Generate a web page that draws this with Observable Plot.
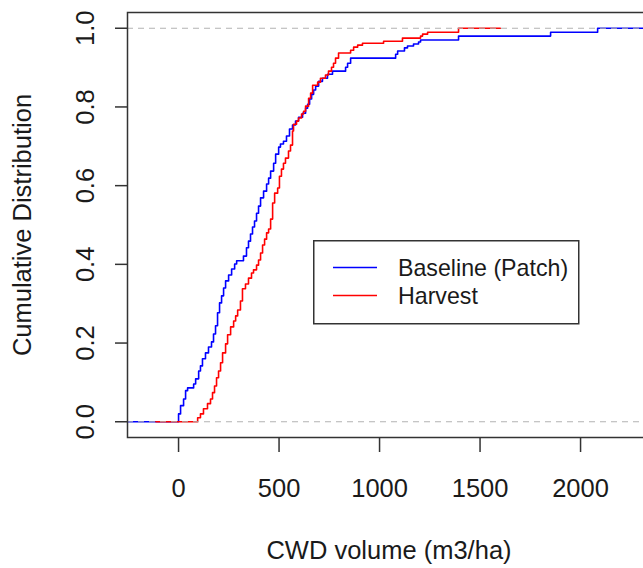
<!DOCTYPE html>
<html>
<head>
<meta charset="utf-8">
<script src="https://cdn.jsdelivr.net/npm/d3@7"></script>
<script src="https://cdn.jsdelivr.net/npm/@observablehq/plot@0.6"></script>
<style>
html, body { margin: 0; padding: 0; background: #fff; overflow: hidden; }
#wrap { position: relative; width: 643px; height: 568px; overflow: hidden; }
#wrap > svg:first-child { max-width: none !important; }
#legend { position: absolute; left: 313px; top: 240px; }
</style>
</head>
<body>
<div id="wrap"></div>
<script>
// ---- data ----
const seriesNames = ["Baseline (Patch)", "Harvest"];
const seriesColors = ["#0000ff", "#ff0000"];

// step knots of the empirical CDFs: x = CWD volume, y = cumulative share after the step
const baselineX = [0,10,25,35,45,75,85,100,109,119,134,149,164,174,184,194,204,214,224,234,
  249,264,279,289,323,338,348,358,368,378,388,398,408,423,438,448,458,473,483,498,
  507,522,537,552,567,582,597,617,632,642,652,662,672,682,697,716,741,766,831,841,
  856,1080,1090,1124,1139,1169,1194,1204,1393,1851,2085];
const baselineY = [0.020,0.041,0.058,0.079,0.086,0.096,0.109,0.129,0.142,0.160,0.175,0.190,0.203,0.223,0.244,
  0.277,0.302,0.320,0.340,0.358,0.373,0.388,0.401,0.409,0.421,0.442,0.459,0.477,0.495,0.510,
  0.530,0.548,0.569,0.586,0.604,0.619,0.637,0.657,0.680,0.698,0.706,0.713,0.726,0.744,0.754,
  0.764,0.774,0.784,0.797,0.807,0.820,0.832,0.843,0.853,0.865,0.873,0.883,0.891,0.901,0.911,
  0.924,0.934,0.942,0.950,0.955,0.960,0.965,0.970,0.980,0.990,1.0];

const harvestX = [95,109,124,144,159,169,179,189,199,209,219,234,244,259,274,284,294,308,318,333,
  348,363,373,388,398,408,418,428,438,448,458,468,478,493,502,512,522,532,547,557,
  567,572,587,597,612,622,632,647,657,667,692,706,731,746,761,771,781,796,856,871,
  891,915,1020,1114,1204,1214,1239,1393];
const harvestY = [0.010,0.020,0.033,0.046,0.058,0.074,0.091,0.112,0.129,0.150,0.175,0.198,0.221,0.241,0.256,
  0.269,0.284,0.307,0.338,0.350,0.365,0.378,0.386,0.398,0.411,0.429,0.449,0.464,0.480,0.490,
  0.515,0.556,0.581,0.594,0.624,0.642,0.657,0.670,0.688,0.703,0.739,0.756,0.764,0.772,0.782,
  0.789,0.802,0.822,0.835,0.855,0.863,0.873,0.881,0.891,0.901,0.911,0.924,0.937,0.944,0.952,
  0.957,0.962,0.967,0.975,0.980,0.985,0.990,1.0];

const xTicks = [0, 500, 1000, 1500, 2000];
const yTicks = [0, 0.2, 0.4, 0.6, 0.8, 1.0];
const xTitle = "CWD volume (m3/ha)";
const yTitle = "Cumulative Distribution";
const xDomain = [-254, 2348];
const yDomain = [-0.04, 1.04];

// ---- build step rows (R plot.stepfun extends each ECDF by 2*8% of its range) ----
function stepRows(name, xs, ys) {
  const lo = d3.min(xs), hi = d3.max(xs), dr = 0.08 * (hi - lo);
  const left = Math.max(xDomain[0], lo - 2 * dr);
  const right = Math.min(xDomain[1], hi + 2 * dr);
  const rows = [{series: name, x: left, y: 0}];
  xs.forEach((x, i) => rows.push({series: name, x, y: ys[i]}));
  rows.push({series: name, x: right, y: 1});
  return rows;
}
const rows = [
  ...stepRows(seriesNames[0], baselineX, baselineY),
  ...stepRows(seriesNames[1], harvestX, harvestY)
];

const fontFamily = "'Liberation Sans', Arial, Helvetica, sans-serif";
const ink = "#1a1a1a";
const fs = 25.5;
const fsLegend = 23.2;

const chart = Plot.plot({
  width: 660,
  height: 568,
  marginLeft: 127,
  marginRight: 10,
  marginTop: 12,
  marginBottom: 131,
  x: {domain: xDomain},
  y: {domain: yDomain},
  color: {domain: seriesNames, range: seriesColors},
  style: {fontFamily, background: "white", color: ink, overflow: "visible", maxWidth: "none"},
  marks: [
    Plot.line(rows, {x: "x", y: "y", z: "series", stroke: "series", curve: "step-after", strokeWidth: 1.6}),
    Plot.ruleY([0, 1], {stroke: "#b3b3b3", strokeWidth: 1.2, strokeDasharray: "6,5"}),
    Plot.frame({stroke: "#333", strokeWidth: 1.5}),
    Plot.axisX({ticks: xTicks, tickSize: 15, tickFormat: () => "", label: null, stroke: "#333", strokeWidth: 1.5}),
    Plot.axisY({ticks: yTicks, tickSize: 12, tickFormat: () => "", label: null, stroke: "#333", strokeWidth: 1.5}),
    Plot.text(xTicks, {x: d => d, text: d => String(d), frameAnchor: "bottom", dy: 51, textAnchor: "middle", lineAnchor: "middle", fontSize: fs, fill: ink}),
    Plot.text(yTicks, {y: d => d, text: d => d.toFixed(1), frameAnchor: "left", dx: -42, rotate: -90, textAnchor: "middle", lineAnchor: "middle", fontSize: fs, fill: ink}),
    Plot.text([xTitle], {text: d => d, frameAnchor: "bottom", dy: 113, textAnchor: "middle", lineAnchor: "middle", fontSize: fs, fill: ink}),
    Plot.text([yTitle], {text: d => d, frameAnchor: "left", dx: -105, rotate: -90, textAnchor: "middle", lineAnchor: "middle", fontSize: fs, fill: ink})
  ]
});

const wrap = document.getElementById("wrap");
wrap.appendChild(chart);

// ---- legend box (overlaid like R's legend()) ----
const lg = d3.select(wrap).append("svg")
  .attr("id", "legend")
  .attr("width", 268).attr("height", 86)
  .style("font-family", fontFamily);
lg.append("rect").attr("x", 0.75).attr("y", 0.75).attr("width", 265).attr("height", 83)
  .attr("fill", "white").attr("stroke", "#333").attr("stroke-width", 1.5);
seriesNames.forEach((name, i) => {
  const cy = 27.5 + i * 28;
  lg.append("line").attr("x1", 20).attr("x2", 64).attr("y1", cy).attr("y2", cy)
    .attr("stroke", seriesColors[i]).attr("stroke-width", 1.6);
  lg.append("text").attr("x", 85).attr("y", cy + 8.5).attr("font-size", fsLegend).attr("fill", ink).text(name);
});
</script>
</body>
</html>
